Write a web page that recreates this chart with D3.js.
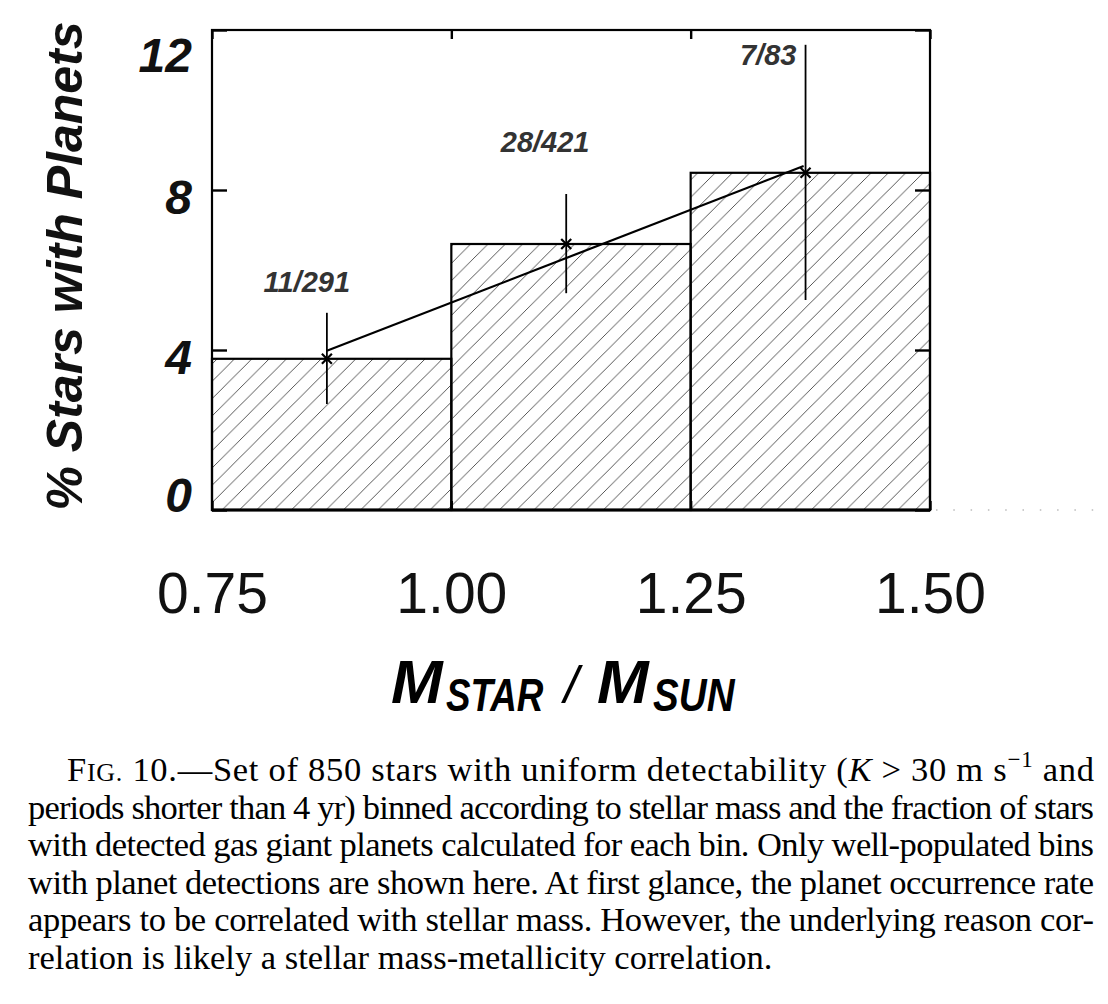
<!DOCTYPE html>
<html>
<head>
<meta charset="utf-8">
<script src="https://cdn.jsdelivr.net/npm/d3@7"></script>
<style>
  html, body { margin: 0; padding: 0; background: #fff; }
  svg { display: block; }
</style>
</head>
<body>
<svg id="chart" width="1108" height="1004"></svg>
<script>
// ---------- data ----------
const xTicks = [0.75, 1.00, 1.25, 1.50];
const yTicks = [0, 4, 8, 12];
const binLo = [0.75, 1.00, 1.25];
const binHi = [1.00, 1.25, 1.50];
const percent = [3.78, 6.65, 8.43];
const meanMass = [0.870, 1.120, 1.370];
const errLow = [2.65, 5.42, 5.25];
const errHigh = [4.93, 7.90, 11.63];
const countLabels = ["11/291", "28/421", "7/83"];
const labelMass = [0.849, 1.098, 1.331];
const labelPct = [5.45, 8.95, 11.12];
const fitMass = [0.870, 1.368];
const fitPct = [3.98, 8.60];
const yTitle = "% Stars with Planets";
const captionLines = [
  null, // first line built with rich formatting
  "periods shorter than 4 yr) binned according to stellar mass and the fraction of stars",
  "with detected gas giant planets calculated for each bin. Only well-populated bins",
  "with planet detections are shown here. At first glance, the planet occurrence rate",
  "appears to be correlated with stellar mass. However, the underlying reason cor-",
  "relation is likely a stellar mass-metallicity correlation."
];

// ---------- layout ----------
const svg = d3.select("#chart");
const L = 212, R = 930, T = 30, B = 510;
const x = d3.scaleLinear().domain([0.75, 1.50]).range([L, R]);
const y = d3.scaleLinear().domain([0, 12]).range([B, T]);
const sans = "Liberation Sans, Arial, Helvetica, sans-serif";

const defs = svg.append("defs");
const s = 17.33;
const pat = defs.append("pattern")
  .attr("id", "hatch")
  .attr("patternUnits", "userSpaceOnUse")
  .attr("width", s).attr("height", s)
  .attr("patternTransform", "translate(4.2,0)");
pat.append("path")
  .attr("d", `M-2,2 L2,-2 M0,${s} L${s},0 M${s-2},${s+2} L${s+2},${s-2}`)
  .attr("stroke", "#444").attr("stroke-width", 0.9).attr("fill", "none");

// dotted artifact continuing the baseline
svg.append("line")
  .attr("x1", R + 6).attr("x2", 1108).attr("y1", B).attr("y2", B)
  .attr("stroke", "#999").attr("stroke-width", 1.2)
  .attr("stroke-dasharray", "1.5,15.8");

// bars
const bins = percent.map((p, i) => ({lo: binLo[i], hi: binHi[i], p}));
svg.append("g").selectAll("rect").data(bins).join("rect")
  .attr("x", d => x(d.lo))
  .attr("y", d => y(d.p))
  .attr("width", d => x(d.hi) - x(d.lo))
  .attr("height", d => y(0) - y(d.p))
  .attr("fill", "url(#hatch)")
  .attr("stroke", "#000").attr("stroke-width", 2.2);

// frame
svg.append("rect")
  .attr("x", L).attr("y", T).attr("width", R - L).attr("height", B - T)
  .attr("fill", "none").attr("stroke", "#000").attr("stroke-width", 2.2);
svg.append("line").attr("x1", L).attr("x2", R).attr("y1", B).attr("y2", B)
  .attr("stroke", "#000").attr("stroke-width", 3);

// ticks via axes (inward)
const axL = d3.axisRight(y).tickValues(yTicks).tickSize(15).tickFormat("");
const axR = d3.axisLeft(y).tickValues(yTicks).tickSize(15).tickFormat("");
const axT = d3.axisBottom(x).tickValues(xTicks).tickSize(9).tickFormat("");
const axB = d3.axisTop(x).tickValues(xTicks).tickSize(9).tickFormat("");
[[axL, `translate(${L},0)`], [axR, `translate(${R},0)`], [axT, `translate(0,${T})`], [axB, `translate(0,${B})`]]
  .forEach(([ax, tr]) => {
    const g = svg.append("g").attr("transform", tr).call(ax);
    g.select(".domain").remove();
    g.selectAll("line").attr("stroke", "#000").attr("stroke-width", 2.4);
  });

// y tick labels (left)
const yLab = d3.axisLeft(y).tickValues(yTicks).tickSize(0).tickPadding(20).tickFormat(d3.format("d"));
const gy = svg.append("g").attr("transform", `translate(${L},0)`).call(yLab);
gy.select(".domain").remove();
gy.selectAll("text")
  .attr("font-family", sans)
  .attr("font-weight", "bold").attr("font-style", "italic")
  .attr("font-size", 48).attr("fill", "#111")
  .attr("dy", null)
  .attr("y", d => Math.min(Math.max(y(d) + 23, T + 41), B + 1) - y(d));

// x tick labels
const xLab = d3.axisBottom(x).tickValues(xTicks).tickSize(0).tickPadding(0).tickFormat(d3.format(".2f"));
const gx = svg.append("g").attr("transform", `translate(0,${B})`).call(xLab);
gx.select(".domain").remove();
gx.selectAll("text")
  .attr("font-family", sans)
  .attr("font-size", 57).attr("fill", "#111")
  .attr("dy", null).attr("y", 103);

// error bars
const pts = meanMass.map((m, i) => ({m, p: percent[i], lo: errLow[i], hi: errHigh[i]}));
svg.append("g").selectAll("line").data(pts).join("line")
  .attr("x1", d => x(d.m)).attr("x2", d => x(d.m))
  .attr("y1", d => y(d.lo)).attr("y2", d => y(d.hi))
  .attr("stroke", "#000").attr("stroke-width", 1.8);

// markers (x)
const ms = 5;
svg.append("g").selectAll("path").data(pts).join("path")
  .attr("d", d => {
    const cx = x(d.m), cy = y(d.p);
    return `M${cx-ms},${cy-ms}L${cx+ms},${cy+ms}M${cx-ms},${cy+ms}L${cx+ms},${cy-ms}`;
  })
  .attr("stroke", "#000").attr("stroke-width", 2.2).attr("fill", "none");

// fit line
svg.append("path")
  .datum(fitMass.map((m, i) => [m, fitPct[i]]))
  .attr("d", d3.line().x(d => x(d[0])).y(d => y(d[1])))
  .attr("stroke", "#000").attr("stroke-width", 2.2).attr("fill", "none");

// count labels
svg.append("g").selectAll("text").data(countLabels).join("text")
  .attr("x", (d, i) => x(labelMass[i]))
  .attr("y", (d, i) => y(labelPct[i]))
  .attr("text-anchor", "middle")
  .attr("font-family", sans)
  .attr("font-weight", "bold").attr("font-style", "italic")
  .attr("font-size", 29).attr("fill", "#333")
  .text(d => d);

// y title
svg.append("text")
  .attr("transform", "translate(82,266) rotate(-90)")
  .attr("text-anchor", "middle")
  .attr("font-family", sans)
  .attr("font-weight", "bold").attr("font-style", "italic")
  .attr("font-size", 50).attr("fill", "#111")
  .text(yTitle);

// x title  (M_STAR / M_SUN)
const titleParts = [
  {t: "M",    x: 391, y: 703, size: 62, sx: 1,    w: "bold"},
  {t: "STAR", x: 446, y: 711, size: 46, sx: 0.8,  w: "bold"},
  {t: "/",    x: 564, y: 703, size: 52, sx: 1,    w: "normal"},
  {t: "M",    x: 597, y: 703, size: 62, sx: 1,    w: "bold"},
  {t: "SUN",  x: 653, y: 711, size: 46, sx: 0.84, w: "bold"}
];
svg.append("g").selectAll("text").data(titleParts).join("text")
  .attr("transform", d => `translate(${d.x},${d.y}) scale(${d.sx},1)`)
  .attr("font-family", sans)
  .attr("font-weight", d => d.w).attr("font-style", "italic")
  .attr("font-size", d => d.size).attr("fill", "#000")
  .text(d => d.t);

// caption
const capFont = "Liberation Serif, Times New Roman, serif";
const capSize = 34.5;
const base0 = 781, pitch = 37.5;
const first = svg.append("text")
  .attr("x", 67).attr("y", base0)
  .attr("font-family", capFont).attr("font-size", capSize).attr("fill", "#000")
  .attr("textLength", 1094 - 67).attr("lengthAdjust", "spacing");
first.append("tspan").text("F");
first.append("tspan").attr("font-size", 26).text("IG.");
first.append("tspan").text(" 10.\u2014Set of 850 stars with uniform detectability (");
first.append("tspan").attr("font-style", "italic").text("K");
first.append("tspan").text(" > 30 m s");
first.append("tspan").attr("font-size", 23).attr("dy", -14).text("\u22121");
first.append("tspan").attr("dy", 14).text(" and");

captionLines.forEach((line, i) => {
  if (!line) return;
  const t = svg.append("text")
    .attr("x", 28).attr("y", base0 + i * pitch)
    .attr("font-family", capFont).attr("font-size", capSize).attr("fill", "#000")
    .text(line);
  if (i < captionLines.length - 1) t.attr("textLength", 1094 - 28).attr("lengthAdjust", "spacing");
});
</script>
</body>
</html>
